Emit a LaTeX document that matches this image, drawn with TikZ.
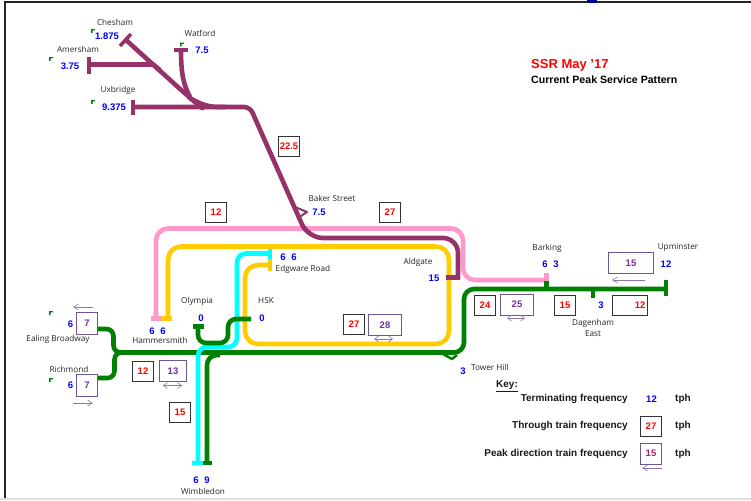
\documentclass[tikz,border=0pt]{standalone}
\usepackage{fontspec}
\setmainfont{Liberation Sans}
\newfontfamily\stnfont{Open Sans}
\usetikzlibrary{arrows.meta}
\definecolor{plum}{RGB}{150,50,105}
\definecolor{pinkl}{RGB}{255,153,204}
\definecolor{yell}{RGB}{255,204,0}
\definecolor{cyanl}{RGB}{0,255,255}
\definecolor{grn}{RGB}{0,128,0}
\definecolor{boxp}{RGB}{110,85,150}
\definecolor{txtp}{RGB}{112,48,160}
\tikzset{
 x=1pt,y=-1pt,
 route/.style={line width=4.6pt,line join=round},
 stub/.style={line width=4.6pt},
 stn/.style={font=\stnfont\fontsize{8.2}{9}\selectfont,inner sep=0pt,align=center,text=black!85},
 num/.style={font=\bfseries\fontsize{9.5}{10}\selectfont,inner sep=0pt,text=blue},
 thru/.style={draw=black!80,line width=0.9pt,fill=white,text=red,font=\bfseries\fontsize{9.5}{10}\selectfont,inner sep=0pt,minimum width=21pt,minimum height=20pt},
 peak/.style={draw=boxp,line width=0.8pt,fill=white,text=txtp,font=\bfseries\fontsize{9.5}{10}\selectfont,inner sep=0pt,minimum height=21pt},
 parr/.style={draw=boxp!80,line width=0.6pt,-{Straight Barb[length=5pt,width=6pt]}},
 parrb/.style={draw=boxp!80,line width=0.6pt,{Straight Barb[length=4pt,width=6pt]}-{Straight Barb[length=4pt,width=6pt]}},
 keyt/.style={font=\bfseries\fontsize{10}{11}\selectfont,inner sep=0pt,text=black!90},
}
\begin{document}
\begin{tikzpicture}
\useasboundingbox (0,0) rectangle (751,500);
\fill[white] (0,0) rectangle (751,500);
\fill[black!12] (0,498) rectangle (751,500);
\draw[line width=1.5pt,black!85] (751,1.8) -- (4.8,1.8) -- (4.8,498);
\fill[blue!60!black] (587,0) rectangle (597,3);
% yellow
\draw[route,yell,rounded corners=13pt] (168,318) -- (168,246.5) -- (449,246.5) -- (449,344) -- (245,344) -- (245,265) -- (270,265);
\draw[stub,yell] (270,255) -- (270,271);
\draw[stub,yell] (161,318.5) -- (171.5,318.5);
% pink
\draw[route,pinkl,rounded corners=12pt] (156,318) -- (156,228.5) -- (463,228.5) -- (463,280) -- (547,280);
\draw[stub,pinkl] (546.5,282) -- (546.5,273);
\draw[stub,pinkl] (151,318.5) -- (161,318.5);
% green main (under cyan)
\draw[route,grn,rounded corners=7pt] (98,329) -- (113.5,329) -- (113.5,352.5) -- (124,352.5);
\draw[route,grn,rounded corners=7pt] (98,378) -- (114.5,378) -- (114.5,352.5) -- (124,352.5);
\draw[route,grn,rounded corners=10pt] (118,352.5) -- (464,352.5) -- (464,289) -- (666,289);
\draw[route,grn,rounded corners=10pt] (207,463) -- (207,355) -- (220,355);
\draw[stub,grn] (203,463) -- (212,463);
\draw[stub,grn] (546.5,281) -- (546.5,291);
\draw[stub,grn] (593,289) -- (593,298);
\draw[stub,grn] (666,280) -- (666,296);
\draw[grn,line width=2.5pt,line join=round] (443,354) -- (452,359) -- (457,355);
% cyan
\draw[route,cyanl,rounded corners=9pt] (270,253.5) -- (237,253.5) -- (237,347) -- (198,347) -- (198,463);
\draw[stub,cyanl] (270,249) -- (270,259);
\draw[stub,cyanl] (192,463) -- (203,463);
% green Olympia - HSK (over cyan)
\draw[route,grn,rounded corners=8pt] (198,326) -- (198,343) -- (228,343) -- (228,319) -- (251,319);
\draw[stub,grn] (193,326.5) -- (204,326.5);
% plum
\draw[route,plum,rounded corners=16pt] (126,40) -- (190,98) -- (201,107) -- (225,107);
\draw[route,plum] (89,64.5) -- (153,64.5) -- (160,70);
\draw[route,plum] (181,50) .. controls (181,72) and (183,84) .. (190,97);
\draw[route,plum,rounded corners=6pt] (133,107) -- (250,107) -- (279,172.5);
\draw[route,plum,rounded corners=15pt] (279,172.5) -- (308,238) -- (458,238) -- (458,279);
\draw[stub,plum] (460.3,277.5) -- (446,277.5);
\draw[stub,plum,line width=3.6pt] (120,46) -- (131,34);
\draw[stub,plum] (89,57) -- (89,74);
\draw[stub,plum] (133,100) -- (133,115);
\draw[stub,plum] (174,50) -- (188,50);
\draw[plum,line width=2pt,line join=round] (295,207) -- (307,212) -- (298,218);
% green ticks
\foreach \p in {(51,59),(93,31),(93,102),(182,44.5),(51,313),(51,380)}
  \fill[grn] \p ++(-1.8,-1.8) -- ++(4,0) -- ++(0,1.2) -- ++(-2.6,0) -- ++(0,2.6) -- ++(-1.4,0) -- cycle;
% Stations
\node[stn] (chesham) at (115,22) {Chesham};
\node[stn] (watford) at (200,33) {Watford};
\node[stn] (amersham) at (78,49) {Amersham};
\node[stn] (uxbridge) at (118,90) {Uxbridge};
\node[stn] (baker) at (332,198) {Baker Street};
\node[stn] (edgware) at (303,269) {Edgware Road};
\node[stn] (aldgate) at (418,262) {Aldgate};
\node[stn] (barking) at (547,248) {Barking};
\node[stn] (upm) at (678,247) {Upminster};
\node[stn] (olympia) at (197,301) {Olympia};
\node[stn] (hsk) at (266,301) {HSK};
\node[stn] (ealing) at (58,339) {Ealing Broadway};
\node[stn] (rich) at (69,369) {Richmond};
\node[stn] (hammer) at (160,340.5) {Hammersmith};
\node[stn] (wimb) at (203,491) {Wimbledon};
\node[stn,align=center] (dag) at (593,327.5) {Dagenham\\[2pt]East};
\node[stn,anchor=west] (tower) at (471,367) {Tower Hill};
% Numbers
\node[num] (nch) at (107,36.5) {1.875};
\node[num] (nwa) at (202,50) {7.5};
\node[num] (nam) at (70,66.5) {3.75};
\node[num] (nux) at (114,107.5) {9.375};
\node[num] (nba) at (319,212) {7.5};
\node[num] (ned1) at (283,257.5) {6};
\node[num] (ned2) at (294,257.5) {6};
\node[num] (nald) at (434,278.5) {15};
\node[num] (nbar1) at (545,264.5) {6};
\node[num] (nbar2) at (556,264.5) {3};
\node[num] (nupm) at (666,264.5) {12};
\node[num] (noly) at (201,318.5) {0};
\node[num] (nhsk) at (262,318.5) {0};
\node[num] (nham1) at (152,331.5) {6};
\node[num] (nham2) at (163,331.5) {6};
\node[num] (neal) at (70.5,324) {6};
\node[num] (nric) at (70.5,385.5) {6};
\node[num] (nwi1) at (196,480) {6};
\node[num] (nwi2) at (207,480) {9};
\node[num] (ndag) at (601,305.5) {3};
\node[num] (ntow) at (463,371) {3};
% Through boxes
\node[thru] (t225) at (289,146) {22.5};
\node[thru] (t12a) at (216,212) {12};
\node[thru] (t27a) at (390,212) {27};
\node[thru] (t27b) at (354,324) {27};
\node[thru] (t24) at (485,305.5) {24};
\node[thru] (t15a) at (565,305.5) {15};
\node[thru,minimum width=35pt,text width=31pt,align=right] (t12b) at (630,305.5) {12};
\node[thru] (t12c) at (143,371) {12};
\node[thru] (t15b) at (180,412) {15};
% Peak boxes
\node[peak,minimum width=33pt] (p28) at (385,325) {28};
\node[peak,minimum width=33pt] (p25) at (517,304.5) {25};
\node[peak,minimum width=45pt] (p15) at (631,263) {15};
\node[peak,minimum width=21pt,minimum height=22pt] (p7a) at (87,323) {7};
\node[peak,minimum width=21pt,minimum height=22pt] (p7b) at (87,385) {7};
\node[peak,minimum width=27pt] (p13) at (173,371) {13};
\draw[parrb] (374,339) -- (393,339);
\draw[parrb] (507,318) -- (525,318);
\draw[parr] (645,280) -- (612,280);
\draw[parr] (93,307) -- (73,307);
\draw[parr] (73,403) -- (93,403);
\draw[parrb] (163,385.5) -- (182,385.5);
% Title
\node[font=\bfseries\fontsize{13}{14}\selectfont,text=red,inner sep=0pt,anchor=west] (title) at (531,65) {SSR May '17};
\node[font=\bfseries\fontsize{10.6}{12}\selectfont,inner sep=0pt,anchor=west] (sub) at (531,80) {Current Peak Service Pattern};
% Key
\node[keyt,anchor=west] (key) at (496,386) {\underline{Key:}};
\node[keyt,anchor=east] (k1) at (628,399) {Terminating frequency};
\node[keyt,anchor=east] (k2) at (628,426) {Through train frequency};
\node[keyt,anchor=east] (k3) at (628,453.5) {Peak direction train frequency};
\node[num] (k1n) at (651.5,399) {12};
\node[thru] (k2n) at (651,426) {27};
\node[peak,text=plum!80!purple,minimum width=21pt] (k3n) at (651,453.5) {15};
\node[keyt,anchor=west] (u1) at (675,399) {tph};
\node[keyt,anchor=west] (u2) at (675,426) {tph};
\node[keyt,anchor=west] (u3) at (675,453.5) {tph};
\draw[parr] (662,468) -- (642,468);
\end{tikzpicture}
\end{document}
